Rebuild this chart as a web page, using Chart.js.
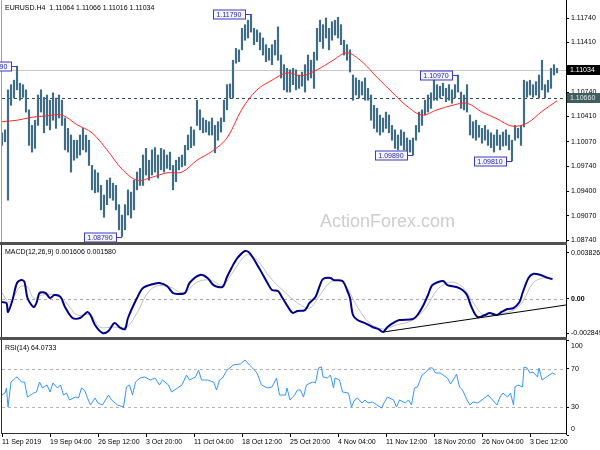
<!DOCTYPE html>
<html>
<head>
<meta charset="utf-8">
<script src="https://cdn.jsdelivr.net/npm/chart.js@4.4.1/dist/chart.umd.min.js"></script>
<style>
  body { margin: 0; background: #fff; }
  #wrap { position: relative; width: 600px; height: 450px; overflow: hidden; background: #fff; }
  #wrap canvas { position: absolute; left: 0; }
  .sep { position: absolute; left: 0; width: 567px; height: 3px; background: #505050; }
</style>
</head>
<body>
<div id="wrap">
  <canvas id="main" width="600" height="242" style="top:0"></canvas>
  <div class="sep" style="top:242px"></div>
  <canvas id="macd" width="600" height="92" style="top:245px"></canvas>
  <div class="sep" style="top:337px"></div>
  <canvas id="rsi" width="600" height="110" style="top:340px"></canvas>
</div>
<script>
'use strict';

/* DATA */

// EURUSD H4, one slot = 2 bars (high / low of the pair)
const barHigh = [
  1.1019, 1.1023, 1.1077, 1.1084, 1.1090, 1.1109, 1.1086, 1.1084, 1.1077, 1.1050,
  1.1029, 1.1036, 1.1070, 1.1077, 1.1067, 1.1070, 1.1063, 1.1073, 1.1066, 1.1070,
  1.1063, 1.1039, 1.1025, 1.1016, 1.1009, 1.1009, 1.1016, 1.1025, 1.1016, 1.1009,
  1.0975, 1.0969, 1.0965, 1.0948, 1.0935, 1.0955, 1.0958, 1.0951, 1.0948, 1.0922,
  1.0908, 1.0922, 1.0942, 1.0939, 1.0955, 1.0966, 1.0971, 1.0989, 1.0998, 1.0982,
  1.0996, 1.0999, 1.0989, 1.0998, 1.0996, 1.0989, 1.0993, 1.0975, 1.0982, 1.0986,
  1.0989, 1.1002, 1.1016, 1.1027, 1.1023, 1.1063, 1.1050, 1.1039, 1.1036, 1.1034,
  1.1039, 1.1029, 1.1034, 1.1039, 1.1063, 1.1084, 1.1085, 1.1117, 1.1133, 1.1131,
  1.1160, 1.1165, 1.1171, 1.1179, 1.1160, 1.1158, 1.1154, 1.1147, 1.1138, 1.1133,
  1.1138, 1.1144, 1.1162, 1.1124, 1.1111, 1.1106, 1.1104, 1.1106, 1.1104, 1.1097,
  1.1101, 1.1111, 1.1124, 1.1117, 1.1128, 1.1160, 1.1171, 1.1165, 1.1174, 1.1160,
  1.1169, 1.1171, 1.1175, 1.1165, 1.1144, 1.1138, 1.1131, 1.1097, 1.1093, 1.1090,
  1.1088, 1.1093, 1.1079, 1.1070, 1.1056, 1.1052, 1.1043, 1.1039, 1.1047, 1.1043,
  1.1029, 1.1023, 1.1016, 1.1023, 1.1020, 1.1012, 1.1009, 1.1012, 1.1029, 1.1047,
  1.1050, 1.1063, 1.1070, 1.1073, 1.1093, 1.1084, 1.1082, 1.1086, 1.1079, 1.1084,
  1.1077, 1.1084, 1.1097, 1.1074, 1.1070, 1.1084, 1.1043, 1.1034, 1.1036, 1.1029,
  1.1025, 1.1029, 1.1023, 1.1019, 1.1016, 1.1023, 1.1016, 1.1020, 1.1023, 1.1016,
  1.1009, 1.1029, 1.1025, 1.1029, 1.1090, 1.1088, 1.1090, 1.1084, 1.1088, 1.1097,
  1.1117, 1.1084, 1.1090, 1.1106, 1.1111, 1.1106
];
const barLow = [
  1.1002, 1.1007, 1.0928, 1.1056, 1.1066, 1.1077, 1.1063, 1.1067, 1.1047, 1.1002,
  1.0993, 1.0998, 1.1029, 1.1047, 1.1019, 1.1029, 1.1023, 1.1036, 1.1025, 1.1039,
  1.1029, 1.0996, 1.0993, 1.0966, 1.0982, 1.0985, 1.0989, 1.0996, 1.0993, 1.0975,
  1.0942, 1.0938, 1.0939, 1.0915, 1.0905, 1.0922, 1.0931, 1.0928, 1.0915, 1.0888,
  1.0879, 1.0888, 1.0908, 1.0904, 1.0915, 1.0942, 1.0948, 1.0948, 1.0962, 1.0955,
  1.0962, 1.0966, 1.0958, 1.0969, 1.0966, 1.0971, 1.0969, 1.0942, 1.0953, 1.0969,
  1.0973, 1.0975, 1.0996, 1.0999, 1.1002, 1.1029, 1.1023, 1.1019, 1.1020, 1.1016,
  1.1016, 1.0992, 1.1009, 1.1020, 1.1034, 1.1050, 1.1066, 1.1066, 1.1113, 1.1115,
  1.1131, 1.1144, 1.1147, 1.1155, 1.1138, 1.1142, 1.1131, 1.1124, 1.1115, 1.1117,
  1.1111, 1.1124, 1.1117, 1.1093, 1.1077, 1.1074, 1.1074, 1.1084, 1.1077, 1.1079,
  1.1082, 1.1074, 1.1090, 1.1093, 1.1079, 1.1117, 1.1142, 1.1133, 1.1147, 1.1131,
  1.1144, 1.1151, 1.1147, 1.1138, 1.1124, 1.1117, 1.1101, 1.1063, 1.1070, 1.1066,
  1.1070, 1.1063, 1.1063, 1.1036, 1.1025, 1.1020, 1.1016, 1.1020, 1.1025, 1.1019,
  1.1009, 1.0998, 1.0996, 1.1002, 1.0996, 1.0993, 1.0993, 1.0989, 1.1009, 1.1020,
  1.1029, 1.1043, 1.1047, 1.1052, 1.1063, 1.1063, 1.1066, 1.1069, 1.1061, 1.1063,
  1.1059, 1.1066, 1.1074, 1.1052, 1.1050, 1.1047, 1.1016, 1.1012, 1.1009, 1.1013,
  1.1005, 1.1009, 1.1002, 1.0999, 1.0993, 1.1002, 1.0996, 1.1001, 1.1002, 1.0996,
  1.0981, 1.1009, 1.1012, 1.1002, 1.1027, 1.1067, 1.1070, 1.1067, 1.1070, 1.1066,
  1.1077, 1.1066, 1.1074, 1.1079, 1.1097, 1.1100
];
const barStep = 2;

// moving average (red), sampled every 10 bars
const maBars = [0, 10, 20, 30, 40, 50, 60, 70, 80, 90, 100, 110, 120, 130, 140, 150, 160, 170, 180,
  190, 200, 210, 220, 230, 240, 250, 260, 270, 280, 290, 300, 310, 320, 330, 340, 350, 360, 370];
const maValues = [1.1034, 1.1036, 1.1040, 1.1042, 1.1043, 1.1030, 1.1019, 1.0996, 1.0970, 1.0955,
  1.0959, 1.0965, 1.0966, 1.0982, 1.0994, 1.1012, 1.1051, 1.1077, 1.1090, 1.1100,
  1.1096, 1.1104, 1.1116, 1.1127, 1.1115, 1.1094, 1.1074, 1.1055, 1.1043, 1.1050,
  1.1056, 1.1059, 1.1047, 1.1038, 1.1028, 1.1032, 1.1048, 1.1062];

// swing labels
const swingBars = [10, 80, 166, 274, 304, 340];
const swingPrices = [1.1109, 1.0879, 1.1179, 1.0989, 1.1097, 1.0981];

const lastPrice = 1.11034;
const levelPrice = 1.10660;
const priceTicks = [1.1174, 1.1141, 1.1107, 1.1074, 1.1041, 1.1007, 1.0974, 1.0940, 1.0907, 1.0874];
const priceHeader = 'EURUSD.H4  1.11064 1.11066 1.11016 1.11034';

// MACD(12,26,9)
const macdBars = [0, 3, 4, 7, 10, 13, 15, 17, 21, 23, 25, 29, 32, 35, 39, 42, 47, 52, 57, 59,
  62, 67, 71, 75, 79, 82, 84, 90, 94, 101, 105, 110, 114, 117, 122, 125, 132, 137, 141, 147,
  150, 153, 157, 162, 165, 171, 177, 180, 184, 187, 192, 194, 197, 202, 205, 209, 212, 214, 219, 221,
  227, 230, 232, 234, 237, 242, 247, 251, 254, 257, 262, 265, 274, 277, 281, 284, 287, 294, 297, 303,
  307, 310, 313, 317, 322, 325, 330, 333, 337, 341, 345, 347, 351, 354, 359, 363, 367];
const macdValues = [-0.00025, -0.00033, -0.00108, -0.00008, 0.00133, 0.00158, 0.00141, 0.00008, -0.00067, -0.00033,
  0.00050, 0.00050, 0.00008, 0.00033, 0.00017, -0.00067, -0.00158, -0.00158, -0.00108, -0.00133,
  -0.00216, -0.00283, -0.00266, -0.00200, -0.00241, -0.00250, -0.00158, 0.00008, 0.00092, 0.00125,
  0.00133, 0.00108, 0.00050, 0.00042, 0.00050, 0.00133, 0.00200, 0.00175, 0.00116, 0.00100,
  0.00183, 0.00258, 0.00341, 0.00399, 0.00383, 0.00266, 0.00133, 0.00075, 0.00067, 0.00008,
  -0.00092, -0.00116, -0.00100, -0.00092, -0.00033, 0.00017, 0.00116, 0.00166, 0.00175, 0.00158,
  0.00150, 0.00075, 0.00008, -0.00133, -0.00175, -0.00200, -0.00233, -0.00250, -0.00275, -0.00233,
  -0.00191, -0.00175, -0.00166, -0.00133, -0.00050, 0.00033, 0.00116, 0.00150, 0.00116, 0.00100,
  0.00075, 0.00033, -0.00067, -0.00150, -0.00133, -0.00116, -0.00133, -0.00108, -0.00083, -0.00075,
  -0.00025, 0.00050, 0.00175, 0.00208, 0.00200, 0.00180, 0.00165];
const signalBars = [0, 5, 12, 17, 21, 27, 37, 43, 50, 59, 65, 74, 83, 90, 97, 103, 112, 121, 130, 139,
  147, 154, 163, 170, 179, 187, 197, 205, 212, 219, 227, 237, 245, 254, 263, 274, 283, 290, 299, 307,
  314, 321, 332, 341, 347, 354, 361, 367];
const signalValues = [0.00050, -0.00025, 0.00100, 0.00100, 0.00008, 0.00033, 0.00033, -0.00033, -0.00133, -0.00133,
  -0.00233, -0.00233, -0.00233, -0.00116, 0.00050, 0.00108, 0.00100, 0.00050, 0.00141, 0.00158,
  0.00116, 0.00225, 0.00366, 0.00324, 0.00175, 0.00075, -0.00033, -0.00075, 0.00033, 0.00141,
  0.00141, -0.00067, -0.00200, -0.00250, -0.00216, -0.00175, -0.00067, 0.00075, 0.00141, 0.00100,
  -0.00025, -0.00133, -0.00125, -0.00092, -0.00025, 0.00133, 0.00175, 0.00158];
const trendBars = [254, 376];
const trendValues = [-0.00275, -0.00050];
const macdTicks = [0.003826, 0, -0.002849];
const macdHeader = 'MACD(12,26,9) 0.001606 0.001580';

// RSI(14)
const rsiBars = [0, 2, 3, 4, 6, 9, 10, 13, 15, 17, 21, 23, 25, 27, 30, 32, 34, 37, 39, 41,
  43, 45, 49, 51, 53, 55, 57, 59, 62, 64, 67, 71, 73, 77, 81, 83, 85, 87, 89, 92,
  95, 99, 102, 105, 107, 111, 113, 117, 120, 123, 125, 129, 131, 133, 137, 141, 143, 145, 147, 150,
  152, 154, 159, 162, 165, 167, 170, 173, 177, 180, 183, 185, 189, 190, 192, 195, 197, 199, 201, 203,
  207, 209, 211, 213, 214, 217, 219, 221, 222, 225, 227, 231, 233, 235, 237, 240, 242, 244, 247, 250,
  253, 255, 257, 261, 263, 265, 269, 271, 273, 275, 277, 280, 282, 285, 287, 289, 292, 297, 299, 302,
  303, 305, 307, 310, 312, 314, 317, 320, 324, 327, 330, 332, 334, 337, 339, 341, 342, 344, 347, 348,
  350, 352, 354, 357, 358, 360, 363, 367, 369];
const rsiValues = [42.6, 44.7, 50.0, 30.0, 56.3, 60.5, 61.6, 56.3, 56.3, 40.5, 44.7, 45.8, 56.3, 50.0, 53.2, 45.8, 55.3, 50.0, 53.2, 42.6,
  44.7, 37.4, 40.5, 39.5, 50.0, 47.9, 39.5, 32.1, 39.5, 34.2, 32.1, 42.6, 37.4, 32.1, 30.0, 51.1, 53.2, 42.6, 56.3, 60.5,
  61.6, 58.4, 60.5, 53.2, 58.4, 53.2, 45.8, 50.0, 53.2, 63.7, 58.4, 61.6, 68.9, 58.4, 58.4, 56.3, 47.9, 58.4, 60.5, 68.9,
  71.1, 74.2, 75.3, 79.5, 74.2, 71.1, 65.8, 53.2, 50.0, 51.1, 60.5, 42.6, 42.6, 50.0, 37.4, 42.6, 47.9, 47.9, 40.5, 53.2,
  56.3, 55.3, 71.1, 72.1, 61.6, 60.5, 63.7, 50.0, 60.5, 58.4, 45.8, 44.7, 30.0, 37.4, 39.5, 34.2, 37.4, 34.2, 35.3, 32.1,
  28.9, 35.3, 40.5, 37.4, 30.0, 37.4, 34.2, 37.4, 32.1, 50.0, 51.1, 63.7, 65.8, 71.1, 71.1, 65.8, 65.8, 60.5, 54.2, 61.6,
  64.7, 51.1, 47.9, 37.4, 32.1, 35.3, 34.2, 37.4, 42.6, 37.4, 32.1, 40.5, 44.7, 40.5, 44.7, 32.1, 51.1, 53.2, 51.1, 72.1,
  71.1, 65.8, 66.8, 61.6, 71.1, 58.4, 61.6, 65.8, 64.1];
const rsiTicks = [100, 70, 30, 0];
const rsiLevels = [70, 30];
const rsiHeader = 'RSI(14) 64.0733';

// time axis: a label every 32 bars
const dateTicks = [0, 32, 64, 96, 128, 160, 192, 224, 256, 288, 320, 352];
const dateLabels = ['11 Sep 2019', '19 Sep 04:00', '26 Sep 12:00', '3 Oct 20:00', '11 Oct 04:00', '18 Oct 12:00',
  '25 Oct 20:00', '4 Nov 04:00', '11 Nov 12:00', '18 Nov 20:00', '26 Nov 04:00', '3 Dec 12:00'];

/* SETUP */

const FONT = '"Liberation Sans", Arial, sans-serif';
Chart.defaults.font.family = FONT;
Chart.defaults.font.size = 7;
Chart.defaults.color = '#000';
Chart.defaults.animation = false;
Chart.defaults.plugins.legend.display = false;
Chart.defaults.plugins.tooltip.enabled = false;

const xRange = { min: 0, max: 376 };

function pinY(scale) {
  scale.width = 34;
  scale.paddingTop = 0;
  scale.paddingBottom = 0;
}

function hiddenX() {
  return { type: 'linear', min: xRange.min, max: xRange.max, offset: false, display: false };
}

function rightAxis(min, max, ticks, fmt, showLabels) {
  return {
    position: 'right', min: min, max: max,
    afterBuildTicks: s => { s.ticks = ticks.map(v => ({ value: v })); },
    afterFit: pinY,
    ticks: {
      display: showLabels, padding: 2, callback: fmt,
      font: c => (c.tick && c.tick.value === 0 && ticks === macdTicks) ? { weight: 'bold' } : {}
    },
    grid: { drawOnChartArea: false, tickLength: 3, color: '#000' },
    border: { color: '#000' }
  };
}

function points(xs, ys) {
  return xs.map((x, i) => ({ x: x, y: ys[i] }));
}

function hline(ctx, a, y, color, dash) {
  ctx.save();
  ctx.strokeStyle = color;
  ctx.lineWidth = 1;
  ctx.setLineDash(dash || []);
  ctx.beginPath();
  ctx.moveTo(a.left, Math.round(y) + 0.5);
  ctx.lineTo(a.right, Math.round(y) + 0.5);
  ctx.stroke();
  ctx.restore();
}

function leftEdge(ctx, a, color) {
  ctx.save();
  ctx.strokeStyle = color;
  ctx.beginPath();
  ctx.moveTo(1.5, a.top);
  ctx.lineTo(1.5, a.bottom);
  ctx.stroke();
  ctx.restore();
}

function header(ctx, text, y) {
  ctx.save();
  ctx.font = '7px ' + FONT;
  ctx.fillStyle = '#000';
  ctx.textBaseline = 'middle';
  ctx.fillText(text, 5, y);
  ctx.restore();
}

/* PRICE PANE */

const priceOverlay = {
  id: 'priceOverlay',
  beforeDatasetsDraw(chart) {
    const { ctx, chartArea: a, scales: { y } } = chart;
    ctx.save();
    ctx.font = '18px ' + FONT;
    ctx.fillStyle = '#cdcdcd';
    ctx.textBaseline = 'alphabetic';
    ctx.fillText('ActionForex.com', 320, 227);
    ctx.restore();
    hline(ctx, a, y.getPixelForValue(lastPrice), '#c8c8c8');
    hline(ctx, a, y.getPixelForValue(levelPrice), '#2f4f4f', [3, 3]);
  },
  afterDraw(chart) {
    const { ctx, chartArea: a, scales: { x, y } } = chart;
    leftEdge(ctx, a, '#a0a0a0');
    header(ctx, priceHeader, 8);
    ctx.save();
    ctx.font = '7px ' + FONT;
    ctx.textBaseline = 'middle';
    // swing tags
    swingBars.forEach((b, i) => {
      const bx = Math.round(x.getPixelForValue(b));
      const py = Math.round(y.getPixelForValue(swingPrices[i])) + 0.5;
      const right = bx - 6, w = 32, h = 9;
      ctx.strokeStyle = '#3a3ac4';
      ctx.beginPath();
      ctx.moveTo(right, py);
      ctx.lineTo(bx, py);
      ctx.stroke();
      ctx.fillStyle = '#f6f6ff';
      ctx.fillRect(right - w + 0.5, py - h / 2, w, h);
      ctx.strokeRect(right - w + 0.5, py - h / 2, w, h);
      ctx.fillStyle = '#1c1c9c';
      ctx.textAlign = 'center';
      ctx.fillText(swingPrices[i].toFixed(5), right - w / 2, py + 0.5);
    });
    // right side price tags
    [[lastPrice, '#000000', '#ffffff'], [levelPrice, '#3f5f5f', '#e8e8e8']].forEach(t => {
      const py = Math.round(y.getPixelForValue(t[0]));
      ctx.fillStyle = t[1];
      ctx.fillRect(a.right + 1, py - 5, 33, 10);
      ctx.fillStyle = t[2];
      ctx.textAlign = 'left';
      ctx.fillText(t[0].toFixed(5), a.right + 4, py + 0.5);
    });
    ctx.restore();
  }
};

new Chart(document.getElementById('main'), {
  type: 'line',
  data: {
    datasets: [
      {
        type: 'line', data: points(maBars, maValues), borderColor: '#ff2b2b', borderWidth: 1,
        pointRadius: 0, tension: 0.35
      },
      {
        type: 'bar', data: barHigh.map((h, k) => ({ x: k * barStep, y: [barLow[k], h] })),
        backgroundColor: '#3f6d86', borderWidth: 0, barThickness: 1.5, grouped: false
      }
    ]
  },
  options: {
    responsive: false,
    layout: { padding: { left: 2 } },
    scales: {
      x: hiddenX(),
      y: rightAxis(1.08716, 1.11983, priceTicks, v => v.toFixed(5), true)
    }
  },
  plugins: [priceOverlay]
});

/* MACD PANE */

const macdOverlay = {
  id: 'macdOverlay',
  beforeDatasetsDraw(chart) {
    const { ctx, chartArea: a, scales: { y } } = chart;
    hline(ctx, a, y.getPixelForValue(0), '#a8a8a8', [3, 3]);
  },
  afterDraw(chart) {
    leftEdge(chart.ctx, chart.chartArea, '#303030');
    header(chart.ctx, macdHeader, 7);
  }
};

new Chart(document.getElementById('macd'), {
  type: 'line',
  data: {
    datasets: [
      { data: points(trendBars, trendValues), borderColor: '#000', borderWidth: 1, pointRadius: 0 },
      { data: points(macdBars, macdValues), borderColor: '#00008b', borderWidth: 2, pointRadius: 0, tension: 0.3 },
      { data: points(signalBars, signalValues), borderColor: '#c0c0c0', borderWidth: 1, pointRadius: 0, tension: 0.35 }
    ]
  },
  options: {
    responsive: false,
    layout: { padding: { left: 2 } },
    scales: {
      x: hiddenX(),
      y: rightAxis(-0.00316, 0.00449, macdTicks, v => (v === 0 ? '0.00' : v.toFixed(6)), true)
    }
  },
  plugins: [macdOverlay]
});

/* RSI PANE */

const rsiOverlay = {
  id: 'rsiOverlay',
  beforeDatasetsDraw(chart) {
    const { ctx, chartArea: a, scales: { y } } = chart;
    rsiLevels.forEach(v => hline(ctx, a, y.getPixelForValue(v), '#b4b4b4', [3, 3]));
  },
  afterDraw(chart) {
    const { ctx, chartArea: a, scales: { y } } = chart;
    leftEdge(ctx, a, '#303030');
    hline(ctx, { left: 1, right: a.right }, a.bottom - 1, '#303030');
    header(ctx, rsiHeader, 8);
    ctx.save();
    ctx.font = '7px ' + FONT;
    ctx.fillStyle = '#000';
    ctx.textBaseline = 'middle';
    rsiTicks.forEach(v => {
      const py = Math.min(Math.max(y.getPixelForValue(v), a.top + 6), a.bottom - 5);
      ctx.fillText(String(v), a.right + 5, py);
    });
    ctx.restore();
  }
};

new Chart(document.getElementById('rsi'), {
  type: 'line',
  data: {
    datasets: [
      { data: points(rsiBars, rsiValues), borderColor: '#3595ff', borderWidth: 1, pointRadius: 0 }
    ]
  },
  options: {
    responsive: false,
    layout: { padding: { left: 2 } },
    scales: {
      x: {
        type: 'linear', min: xRange.min, max: xRange.max, offset: false,
        afterBuildTicks: s => { s.ticks = dateTicks.map(v => ({ value: v })); },
        afterFit: s => { s.height = 16; s.paddingLeft = 0; s.paddingRight = 0; },
        ticks: { align: 'start', autoSkip: false, maxRotation: 0, padding: 1, callback: (v, i) => dateLabels[i] },
        grid: { drawOnChartArea: false, tickLength: 3, color: '#000' },
        border: { display: false }
      },
      y: rightAxis(1.6, 100.5, rsiTicks, v => String(v), false)
    }
  },
  plugins: [rsiOverlay]
});
</script>
</body>
</html>
